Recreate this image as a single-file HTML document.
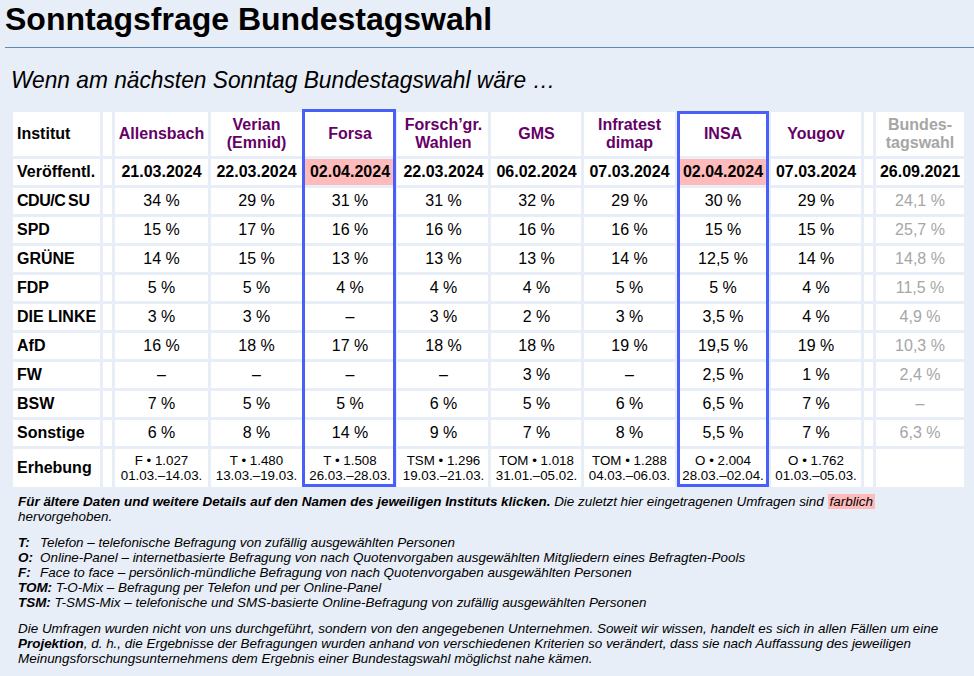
<!DOCTYPE html>
<html lang="de"><head><meta charset="utf-8"><title>Sonntagsfrage Bundestagswahl</title>
<style>
html,body{margin:0;padding:0}
body{width:974px;height:676px;overflow:hidden;background:#e8eef7;font-family:"Liberation Sans",sans-serif;color:#000;position:relative}
h1{position:absolute;left:5px;top:0;margin:0;width:969px;height:47px;border-bottom:1px solid #5b8db8;font-size:32px;line-height:38px;font-weight:bold;box-sizing:content-box;white-space:nowrap}
h1 span{position:absolute;left:0;top:0}
.sub{position:absolute;left:11px;top:66px;margin:0;font-size:24px;line-height:28px;transform:scaleX(0.947);transform-origin:0 0;font-style:italic;white-space:nowrap}
.c{position:absolute;background:#fff;display:flex;align-items:center;justify-content:center;text-align:center;font-size:16px;line-height:17px;box-sizing:border-box;white-space:nowrap;overflow:hidden;padding-bottom:2px}
.c.l{justify-content:flex-start;text-align:left;padding-left:4px}
.b{font-weight:bold}
.h{font-weight:bold;color:#660066}
.h.g,.v.g{color:#a6a6a6}
.pink{background:#ffbbbb}
.e{font-size:13.33px;line-height:15px;padding-bottom:0}
.h2{line-height:18px;padding-bottom:1px}
.ks{margin-left:2.5px}
.box{position:absolute;border:3px solid #4a5ff7;box-sizing:border-box;pointer-events:none}
.f{position:absolute;left:18px;margin:0;font-size:13.44px;line-height:15px;font-style:italic;white-space:nowrap}
.f b{font-weight:bold}
.k{display:inline-block;width:22px}
.hl{background:#ffbbbb;padding:0 2px}
</style></head><body>
<h1><span>Sonntagsfrage Bundestagswahl</span></h1>
<p class="sub">Wenn am nächsten Sonntag Bundestagswahl wäre …</p>
<div class="c l b" style="left:13px;top:112px;width:87px;height:44px;"><span>Institut</span></div>
<div class="c h" style="left:103px;top:112px;width:9px;height:44px;"><span></span></div>
<div class="c h" style="left:115px;top:112px;width:93px;height:44px;"><span>Allensbach</span></div>
<div class="c h h2" style="left:211px;top:112px;width:91px;height:44px;"><span>Verian<br>(Emnid)</span></div>
<div class="c h" style="left:305px;top:112px;width:88px;height:44px;padding-left:2px;"><span>Forsa</span></div>
<div class="c h h2" style="left:397px;top:112px;width:91px;height:44px;padding-left:2px;"><span>Forsch’gr.<br>Wahlen</span></div>
<div class="c h" style="left:491px;top:112px;width:90px;height:44px;padding-left:1px;"><span>GMS</span></div>
<div class="c h h2" style="left:584px;top:112px;width:91px;height:44px;"><span>Infratest<br>dimap</span></div>
<div class="c h" style="left:680px;top:112px;width:86px;height:44px;"><span>INSA</span></div>
<div class="c h" style="left:771px;top:112px;width:90px;height:44px;"><span>Yougov</span></div>
<div class="c h" style="left:864px;top:112px;width:9px;height:44px;"><span></span></div>
<div class="c h g h2" style="left:876px;top:112px;width:88px;height:44px;"><span>Bundes-<br>tagswahl</span></div>
<div class="c l b" style="left:13px;top:159px;width:87px;height:26px;"><span>Veröffentl.</span></div>
<div class="c b d" style="left:103px;top:159px;width:9px;height:26px;"><span></span></div>
<div class="c b d" style="left:115px;top:159px;width:93px;height:26px;"><span>21.03.2024</span></div>
<div class="c b d" style="left:211px;top:159px;width:91px;height:26px;"><span>22.03.2024</span></div>
<div class="c b d pink" style="left:305px;top:159px;width:88px;height:26px;padding-left:2px;"><span>02.04.2024</span></div>
<div class="c b d" style="left:397px;top:159px;width:91px;height:26px;padding-left:2px;"><span>22.03.2024</span></div>
<div class="c b d" style="left:491px;top:159px;width:90px;height:26px;padding-left:1px;"><span>06.02.2024</span></div>
<div class="c b d" style="left:584px;top:159px;width:91px;height:26px;"><span>07.03.2024</span></div>
<div class="c b d pink" style="left:680px;top:159px;width:86px;height:26px;"><span>02.04.2024</span></div>
<div class="c b d" style="left:771px;top:159px;width:90px;height:26px;"><span>07.03.2024</span></div>
<div class="c b d" style="left:864px;top:159px;width:9px;height:26px;"><span></span></div>
<div class="c b d" style="left:876px;top:159px;width:88px;height:26px;"><span>26.09.2021</span></div>
<div class="c l b" style="left:13px;top:188px;width:87px;height:26px;"><span><span style="letter-spacing:-0.45px">CDU/C</span><span class="ks">SU</span></span></div>
<div class="c v" style="left:103px;top:188px;width:9px;height:26px;"><span></span></div>
<div class="c v" style="left:115px;top:188px;width:93px;height:26px;"><span>34 %</span></div>
<div class="c v" style="left:211px;top:188px;width:91px;height:26px;"><span>29 %</span></div>
<div class="c v" style="left:305px;top:188px;width:88px;height:26px;padding-left:2px;"><span>31 %</span></div>
<div class="c v" style="left:397px;top:188px;width:91px;height:26px;padding-left:2px;"><span>31 %</span></div>
<div class="c v" style="left:491px;top:188px;width:90px;height:26px;padding-left:1px;"><span>32 %</span></div>
<div class="c v" style="left:584px;top:188px;width:91px;height:26px;"><span>29 %</span></div>
<div class="c v" style="left:680px;top:188px;width:86px;height:26px;"><span>30 %</span></div>
<div class="c v" style="left:771px;top:188px;width:90px;height:26px;"><span>29 %</span></div>
<div class="c v" style="left:864px;top:188px;width:9px;height:26px;"><span></span></div>
<div class="c v g" style="left:876px;top:188px;width:88px;height:26px;"><span>24,1 %</span></div>
<div class="c l b" style="left:13px;top:217px;width:87px;height:26px;"><span>SPD</span></div>
<div class="c v" style="left:103px;top:217px;width:9px;height:26px;"><span></span></div>
<div class="c v" style="left:115px;top:217px;width:93px;height:26px;"><span>15 %</span></div>
<div class="c v" style="left:211px;top:217px;width:91px;height:26px;"><span>17 %</span></div>
<div class="c v" style="left:305px;top:217px;width:88px;height:26px;padding-left:2px;"><span>16 %</span></div>
<div class="c v" style="left:397px;top:217px;width:91px;height:26px;padding-left:2px;"><span>16 %</span></div>
<div class="c v" style="left:491px;top:217px;width:90px;height:26px;padding-left:1px;"><span>16 %</span></div>
<div class="c v" style="left:584px;top:217px;width:91px;height:26px;"><span>16 %</span></div>
<div class="c v" style="left:680px;top:217px;width:86px;height:26px;"><span>15 %</span></div>
<div class="c v" style="left:771px;top:217px;width:90px;height:26px;"><span>15 %</span></div>
<div class="c v" style="left:864px;top:217px;width:9px;height:26px;"><span></span></div>
<div class="c v g" style="left:876px;top:217px;width:88px;height:26px;"><span>25,7 %</span></div>
<div class="c l b" style="left:13px;top:246px;width:87px;height:26px;"><span>GRÜNE</span></div>
<div class="c v" style="left:103px;top:246px;width:9px;height:26px;"><span></span></div>
<div class="c v" style="left:115px;top:246px;width:93px;height:26px;"><span>14 %</span></div>
<div class="c v" style="left:211px;top:246px;width:91px;height:26px;"><span>15 %</span></div>
<div class="c v" style="left:305px;top:246px;width:88px;height:26px;padding-left:2px;"><span>13 %</span></div>
<div class="c v" style="left:397px;top:246px;width:91px;height:26px;padding-left:2px;"><span>13 %</span></div>
<div class="c v" style="left:491px;top:246px;width:90px;height:26px;padding-left:1px;"><span>13 %</span></div>
<div class="c v" style="left:584px;top:246px;width:91px;height:26px;"><span>14 %</span></div>
<div class="c v" style="left:680px;top:246px;width:86px;height:26px;"><span>12,5 %</span></div>
<div class="c v" style="left:771px;top:246px;width:90px;height:26px;"><span>14 %</span></div>
<div class="c v" style="left:864px;top:246px;width:9px;height:26px;"><span></span></div>
<div class="c v g" style="left:876px;top:246px;width:88px;height:26px;"><span>14,8 %</span></div>
<div class="c l b" style="left:13px;top:275px;width:87px;height:26px;"><span>FDP</span></div>
<div class="c v" style="left:103px;top:275px;width:9px;height:26px;"><span></span></div>
<div class="c v" style="left:115px;top:275px;width:93px;height:26px;"><span>5 %</span></div>
<div class="c v" style="left:211px;top:275px;width:91px;height:26px;"><span>5 %</span></div>
<div class="c v" style="left:305px;top:275px;width:88px;height:26px;padding-left:2px;"><span>4 %</span></div>
<div class="c v" style="left:397px;top:275px;width:91px;height:26px;padding-left:2px;"><span>4 %</span></div>
<div class="c v" style="left:491px;top:275px;width:90px;height:26px;padding-left:1px;"><span>4 %</span></div>
<div class="c v" style="left:584px;top:275px;width:91px;height:26px;"><span>5 %</span></div>
<div class="c v" style="left:680px;top:275px;width:86px;height:26px;"><span>5 %</span></div>
<div class="c v" style="left:771px;top:275px;width:90px;height:26px;"><span>4 %</span></div>
<div class="c v" style="left:864px;top:275px;width:9px;height:26px;"><span></span></div>
<div class="c v g" style="left:876px;top:275px;width:88px;height:26px;"><span>11,5 %</span></div>
<div class="c l b" style="left:13px;top:304px;width:87px;height:26px;"><span>DIE LINKE</span></div>
<div class="c v" style="left:103px;top:304px;width:9px;height:26px;"><span></span></div>
<div class="c v" style="left:115px;top:304px;width:93px;height:26px;"><span>3 %</span></div>
<div class="c v" style="left:211px;top:304px;width:91px;height:26px;"><span>3 %</span></div>
<div class="c v" style="left:305px;top:304px;width:88px;height:26px;padding-left:2px;"><span>–</span></div>
<div class="c v" style="left:397px;top:304px;width:91px;height:26px;padding-left:2px;"><span>3 %</span></div>
<div class="c v" style="left:491px;top:304px;width:90px;height:26px;padding-left:1px;"><span>2 %</span></div>
<div class="c v" style="left:584px;top:304px;width:91px;height:26px;"><span>3 %</span></div>
<div class="c v" style="left:680px;top:304px;width:86px;height:26px;"><span>3,5 %</span></div>
<div class="c v" style="left:771px;top:304px;width:90px;height:26px;"><span>4 %</span></div>
<div class="c v" style="left:864px;top:304px;width:9px;height:26px;"><span></span></div>
<div class="c v g" style="left:876px;top:304px;width:88px;height:26px;"><span>4,9 %</span></div>
<div class="c l b" style="left:13px;top:333px;width:87px;height:26px;"><span>AfD</span></div>
<div class="c v" style="left:103px;top:333px;width:9px;height:26px;"><span></span></div>
<div class="c v" style="left:115px;top:333px;width:93px;height:26px;"><span>16 %</span></div>
<div class="c v" style="left:211px;top:333px;width:91px;height:26px;"><span>18 %</span></div>
<div class="c v" style="left:305px;top:333px;width:88px;height:26px;padding-left:2px;"><span>17 %</span></div>
<div class="c v" style="left:397px;top:333px;width:91px;height:26px;padding-left:2px;"><span>18 %</span></div>
<div class="c v" style="left:491px;top:333px;width:90px;height:26px;padding-left:1px;"><span>18 %</span></div>
<div class="c v" style="left:584px;top:333px;width:91px;height:26px;"><span>19 %</span></div>
<div class="c v" style="left:680px;top:333px;width:86px;height:26px;"><span>19,5 %</span></div>
<div class="c v" style="left:771px;top:333px;width:90px;height:26px;"><span>19 %</span></div>
<div class="c v" style="left:864px;top:333px;width:9px;height:26px;"><span></span></div>
<div class="c v g" style="left:876px;top:333px;width:88px;height:26px;"><span>10,3 %</span></div>
<div class="c l b" style="left:13px;top:362px;width:87px;height:26px;"><span>FW</span></div>
<div class="c v" style="left:103px;top:362px;width:9px;height:26px;"><span></span></div>
<div class="c v" style="left:115px;top:362px;width:93px;height:26px;"><span>–</span></div>
<div class="c v" style="left:211px;top:362px;width:91px;height:26px;"><span>–</span></div>
<div class="c v" style="left:305px;top:362px;width:88px;height:26px;padding-left:2px;"><span>–</span></div>
<div class="c v" style="left:397px;top:362px;width:91px;height:26px;padding-left:2px;"><span>–</span></div>
<div class="c v" style="left:491px;top:362px;width:90px;height:26px;padding-left:1px;"><span>3 %</span></div>
<div class="c v" style="left:584px;top:362px;width:91px;height:26px;"><span>–</span></div>
<div class="c v" style="left:680px;top:362px;width:86px;height:26px;"><span>2,5 %</span></div>
<div class="c v" style="left:771px;top:362px;width:90px;height:26px;"><span>1 %</span></div>
<div class="c v" style="left:864px;top:362px;width:9px;height:26px;"><span></span></div>
<div class="c v g" style="left:876px;top:362px;width:88px;height:26px;"><span>2,4 %</span></div>
<div class="c l b" style="left:13px;top:391px;width:87px;height:26px;"><span>BSW</span></div>
<div class="c v" style="left:103px;top:391px;width:9px;height:26px;"><span></span></div>
<div class="c v" style="left:115px;top:391px;width:93px;height:26px;"><span>7 %</span></div>
<div class="c v" style="left:211px;top:391px;width:91px;height:26px;"><span>5 %</span></div>
<div class="c v" style="left:305px;top:391px;width:88px;height:26px;padding-left:2px;"><span>5 %</span></div>
<div class="c v" style="left:397px;top:391px;width:91px;height:26px;padding-left:2px;"><span>6 %</span></div>
<div class="c v" style="left:491px;top:391px;width:90px;height:26px;padding-left:1px;"><span>5 %</span></div>
<div class="c v" style="left:584px;top:391px;width:91px;height:26px;"><span>6 %</span></div>
<div class="c v" style="left:680px;top:391px;width:86px;height:26px;"><span>6,5 %</span></div>
<div class="c v" style="left:771px;top:391px;width:90px;height:26px;"><span>7 %</span></div>
<div class="c v" style="left:864px;top:391px;width:9px;height:26px;"><span></span></div>
<div class="c v g" style="left:876px;top:391px;width:88px;height:26px;"><span>–</span></div>
<div class="c l b" style="left:13px;top:420px;width:87px;height:26px;"><span>Sonstige</span></div>
<div class="c v" style="left:103px;top:420px;width:9px;height:26px;"><span></span></div>
<div class="c v" style="left:115px;top:420px;width:93px;height:26px;"><span>6 %</span></div>
<div class="c v" style="left:211px;top:420px;width:91px;height:26px;"><span>8 %</span></div>
<div class="c v" style="left:305px;top:420px;width:88px;height:26px;padding-left:2px;"><span>14 %</span></div>
<div class="c v" style="left:397px;top:420px;width:91px;height:26px;padding-left:2px;"><span>9 %</span></div>
<div class="c v" style="left:491px;top:420px;width:90px;height:26px;padding-left:1px;"><span>7 %</span></div>
<div class="c v" style="left:584px;top:420px;width:91px;height:26px;"><span>8 %</span></div>
<div class="c v" style="left:680px;top:420px;width:86px;height:26px;"><span>5,5 %</span></div>
<div class="c v" style="left:771px;top:420px;width:90px;height:26px;"><span>7 %</span></div>
<div class="c v" style="left:864px;top:420px;width:9px;height:26px;"><span></span></div>
<div class="c v g" style="left:876px;top:420px;width:88px;height:26px;"><span>6,3 %</span></div>
<div class="c l b" style="left:13px;top:449px;width:87px;height:38px;"><span>Erhebung</span></div>
<div class="c e" style="left:103px;top:449px;width:9px;height:38px;"><span></span></div>
<div class="c e" style="left:115px;top:449px;width:93px;height:38px;"><span>F • 1.027<br>01.03.–14.03.</span></div>
<div class="c e" style="left:211px;top:449px;width:91px;height:38px;"><span>T • 1.480<br>13.03.–19.03.</span></div>
<div class="c e" style="left:305px;top:449px;width:88px;height:38px;padding-left:2px;"><span>T • 1.508<br>26.03.–28.03.</span></div>
<div class="c e" style="left:397px;top:449px;width:91px;height:38px;padding-left:2px;"><span>TSM • 1.296<br>19.03.–21.03.</span></div>
<div class="c e" style="left:491px;top:449px;width:90px;height:38px;padding-left:1px;"><span>TOM • 1.018<br>31.01.–05.02.</span></div>
<div class="c e" style="left:584px;top:449px;width:91px;height:38px;"><span>TOM • 1.288<br>04.03.–06.03.</span></div>
<div class="c e" style="left:680px;top:449px;width:86px;height:38px;"><span>O • 2.004<br>28.03.–02.04.</span></div>
<div class="c e" style="left:771px;top:449px;width:90px;height:38px;"><span>O • 1.762<br>01.03.–05.03.</span></div>
<div class="c e" style="left:864px;top:449px;width:9px;height:38px;"><span></span></div>
<div class="c e" style="left:876px;top:449px;width:88px;height:38px;"><span></span></div>
<div class="box" style="left:302px;top:109px;width:94px;height:378px"></div>
<div class="box" style="left:677px;top:111px;width:92px;height:376px"></div>
<p class="f" style="top:494px"><b>Für ältere Daten und weitere Details auf den Namen des jeweiligen Instituts klicken.</b> Die zuletzt hier eingetragenen Umfragen sind <span class="hl">farblich</span><br>hervorgehoben.</p>
<p class="f" style="top:534.5px"><b class="k">T:</b>Telefon – telefonische Befragung von zufällig ausgewählten Personen<br><b class="k">O:</b>Online-Panel – internetbasierte Befragung von nach Quotenvorgaben ausgewählten Mitgliedern eines Befragten-Pools<br><b class="k">F:</b>Face to face – persönlich-mündliche Befragung von nach Quotenvorgaben ausgewählten Personen<br><b>TOM:</b> T-O-Mix – Befragung per Telefon und per Online-Panel<br><b>TSM:</b> T-SMS-Mix – telefonische und SMS-basierte Online-Befragung von zufällig ausgewählten Personen</p>
<p class="f" style="top:620.5px">Die Umfragen wurden nicht von uns durchgeführt, sondern von den angegebenen Unternehmen. Soweit wir wissen, handelt es sich in allen Fällen um eine<br><b>Projektion</b>, d. h., die Ergebnisse der Befragungen wurden anhand von verschiedenen Kriterien so verändert, dass sie nach Auffassung des jeweiligen<br>Meinungsforschungsunternehmens dem Ergebnis einer Bundestagswahl möglichst nahe kämen.</p>
</body></html>
